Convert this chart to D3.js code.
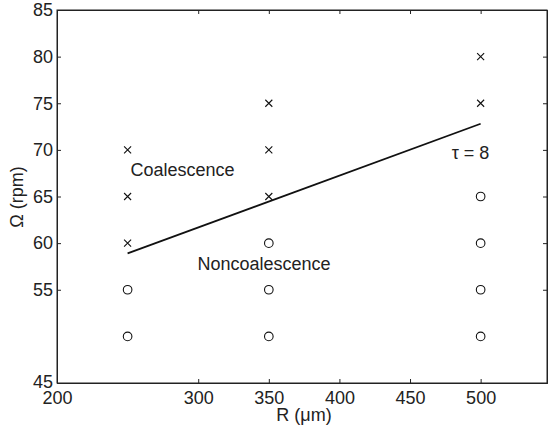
<!DOCTYPE html>
<meta charset="utf-8">
<style>
body { margin: 0; background: #fff; }
svg text { font-family: "Liberation Sans", Arial, sans-serif; fill: #222; }
.axis path, .axis line { stroke: #222; }
</style>
<svg width="548" height="428"></svg>
<script src="https://d3js.org/d3.v7.min.js"></script>
<script>

// data
var coalX = [250, 250, 250, 350, 350, 350, 500, 500],
    coalY = [60, 65, 70, 65, 70, 75, 75, 80];

var nonX = [250, 250, 350, 350, 350, 500, 500, 500, 500],
    nonY = [50, 55, 50, 55, 60, 50, 55, 60, 65];

var lineX = [250, 500],
    lineY = [58.9, 72.8];

var xTicks = [200, 300, 350, 400, 450, 500],
    yTicks = [45, 55, 60, 65, 70, 75, 80, 85];

var svg = d3.select("svg"),
    margin = {top: 10, right: 1, bottom: 45, left: 57},
    width = +svg.attr("width") - margin.left - margin.right,
    height = +svg.attr("height") - margin.top - margin.bottom;

var x = d3.scaleLinear().domain([200, 547]).range([0, width]),
    y = d3.scaleLinear().domain([45, 85]).range([height, 0]);

var g = svg.append("g")
    .attr("transform", "translate(" + margin.left + "," + margin.top + ")");

// box
g.append("rect")
    .attr("width", width)
    .attr("height", height)
    .attr("fill", "none")
    .attr("stroke", "#222");

// bottom / left axes with inward ticks
var xAxis = g.append("g")
    .attr("class", "axis")
    .attr("transform", "translate(0," + height + ")")
    .call(d3.axisBottom(x).tickValues(xTicks).tickSize(-4).tickPadding(8));

var yAxis = g.append("g")
    .attr("class", "axis")
    .call(d3.axisLeft(y).tickValues(yTicks).tickSize(-4).tickPadding(4));

// top / right ticks, no labels
g.append("g")
    .attr("class", "axis")
    .call(d3.axisTop(x).tickValues(xTicks).tickSize(-4).tickFormat(""));

g.append("g")
    .attr("class", "axis")
    .attr("transform", "translate(" + width + ",0)")
    .call(d3.axisRight(y).tickValues(yTicks).tickSize(-4).tickFormat(""));

svg.selectAll(".axis path").attr("stroke", "none");
svg.selectAll(".axis text").style("font-size", "18px").attr("fill", "#222");

xAxis.selectAll(".tick").filter(function(d) { return d == 200; })
    .select("line").remove();
yAxis.selectAll(".tick").filter(function(d) { return d == 45 || d == 85; })
    .select("line").remove();
// corner label "45" sits just above "200"
yAxis.selectAll(".tick").filter(function(d) { return d == 45; })
    .select("text").attr("dy", "0.25em");

// threshold line
g.append("path")
    .datum(d3.range(lineX.length))
    .attr("fill", "none")
    .attr("stroke", "#111")
    .attr("stroke-width", 1.8)
    .attr("d", d3.line()
        .x(function(i) { return x(lineX[i]); })
        .y(function(i) { return y(lineY[i]); }));

// crosses
var cs = 3.5;
g.selectAll(".cross")
    .data(d3.range(coalX.length))
  .enter().append("path")
    .attr("class", "cross")
    .attr("fill", "none")
    .attr("stroke", "#111")
    .attr("stroke-width", 1.1)
    .attr("d", function(i) {
      var cx = x(coalX[i]), cy = y(coalY[i]);
      return "M" + (cx - cs) + "," + (cy - cs) + "L" + (cx + cs) + "," + (cy + cs) +
             "M" + (cx - cs) + "," + (cy + cs) + "L" + (cx + cs) + "," + (cy - cs);
    });

// circles
g.selectAll(".ring")
    .data(d3.range(nonX.length))
  .enter().append("circle")
    .attr("class", "ring")
    .attr("cx", function(i) { return x(nonX[i]); })
    .attr("cy", function(i) { return y(nonY[i]); })
    .attr("r", 4.3)
    .attr("fill", "none")
    .attr("stroke", "#111")
    .attr("stroke-width", 1.1);

// annotations
g.append("text")
    .attr("x", x(252)).attr("y", y(67.2))
    .style("font-size", "18px")
    .text("Coalescence");

g.append("text")
    .attr("x", x(299.5)).attr("y", y(57.1))
    .style("font-size", "18px")
    .text("Noncoalescence");

g.append("text")
    .attr("x", x(479.5)).attr("y", y(69))
    .style("font-size", "18px")
    .text("\u03c4 = 8");

// axis titles
svg.append("text")
    .attr("x", 304).attr("y", 421)
    .attr("text-anchor", "middle")
    .style("font-size", "18px")
    .text("R (\u03bcm)");

svg.append("text")
    .attr("transform", "translate(23,197) rotate(-90)")
    .attr("text-anchor", "middle")
    .style("font-size", "18px")
    .text("\u03a9 (rpm)");

</script>
